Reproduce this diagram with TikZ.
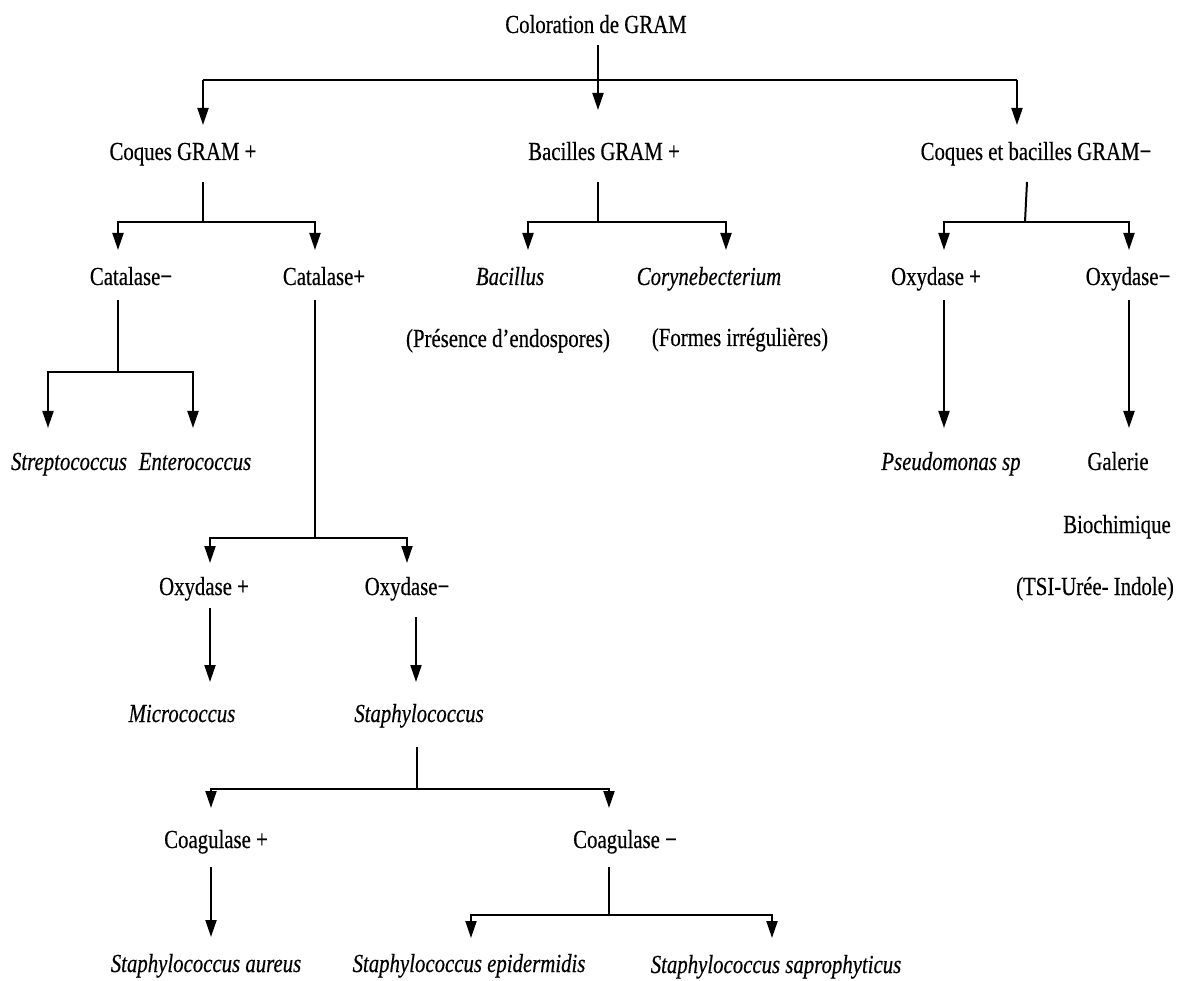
\documentclass[tikz,border=0pt]{standalone}
\usepackage{fontspec}
\setmainfont[FakeStretch=0.8,FakeBold=0.4]{Liberation Serif}
\usetikzlibrary{arrows.meta}
\begin{document}
\begin{tikzpicture}[x=1pt,y=-1pt,
  lbl/.style={anchor=base,inner sep=0pt,font=\fontsize{26}{30}\selectfont},
  ilbl/.style={lbl,font=\fontsize{26}{30}\selectfont\itshape},
  ln/.style={line width=2pt},
  arr/.style={ln,-{Triangle[length=17pt,width=11pt]}}]
\useasboundingbox (0,0) rectangle (1184,981);
% nodes
\node[lbl] (root) at (596,33) {Coloration de GRAM};
\node[lbl] (cgp) at (183,160) {Coques GRAM +};
\node[lbl] (bgp) at (604,160) {Bacilles GRAM +};
\node[lbl] (cbgm) at (1036,160) {Coques et bacilles GRAM−};
\node[lbl] (catm) at (131,285) {Catalase−};
\node[lbl] (catp) at (324,285) {Catalase+};
\node[ilbl] (bac) at (510,285) {Bacillus};
\node[ilbl] (cory) at (709,285) {Corynebecterium};
\node[lbl] (oxpa) at (936,285) {Oxydase +};
\node[lbl] (oxma) at (1128,285) {Oxydase−};
\node[lbl] (pres) at (508,347) {(Présence d’endospores)};
\node[lbl] (form) at (740,346) {(Formes irrégulières)};
\node[ilbl] (strep) at (69,470) {Streptococcus};
\node[ilbl] (entero) at (195,470) {Enterococcus};
\node[ilbl] (pseudo) at (951,470) {Pseudomonas sp};
\node[lbl] (gal) at (1118,470) {Galerie};
\node[lbl] (bio) at (1117,533) {Biochimique};
\node[lbl] (tsi) at (1095,595) {(TSI-Urée- Indole)};
\node[lbl] (oxpb) at (204,595) {Oxydase +};
\node[lbl] (oxmb) at (407,595) {Oxydase−};
\node[ilbl] (micro) at (182,722) {Micrococcus};
\node[ilbl] (staph) at (419,722) {Staphylococcus};
\node[lbl] (coagp) at (216,848) {Coagulase +};
\node[lbl] (coagm) at (625,848) {Coagulase −};
\node[ilbl] (aureus) at (206,972) {Staphylococcus aureus};
\node[ilbl] (epid) at (469,972) {Staphylococcus epidermidis};
\node[ilbl] (sapro) at (776,973) {Staphylococcus saprophyticus};
% coordinates
\coordinate (r0) at (598,45);
\coordinate (rL) at (203,80); \coordinate (rR) at (1017,80);
\coordinate (rLt) at (203,125); \coordinate (rMt) at (598,110); \coordinate (rRt) at (1017,125);
\coordinate (c0) at (203,182); \coordinate (c1) at (203,222);
\coordinate (cL) at (118,222); \coordinate (cR) at (315,222);
\coordinate (cLt) at (118,250); \coordinate (cRt) at (315,250);
\coordinate (b0) at (598,182); \coordinate (b1) at (598,222);
\coordinate (bL) at (528,222); \coordinate (bR) at (726,222);
\coordinate (bLt) at (528,250); \coordinate (bRt) at (726,250);
\coordinate (g0) at (1027,182); \coordinate (g1) at (1025,222);
\coordinate (gL) at (944,222); \coordinate (gR) at (1129,222);
\coordinate (gLt) at (944,250); \coordinate (gRt) at (1129,250);
\coordinate (cm0) at (118,300); \coordinate (cm1) at (118,372);
\coordinate (cmL) at (48,372); \coordinate (cmR) at (193,372);
\coordinate (cmLt) at (48,428); \coordinate (cmRt) at (193,428);
\coordinate (cp0) at (315,300); \coordinate (cp1) at (315,538);
\coordinate (cpL) at (210,538); \coordinate (cpR) at (407,538);
\coordinate (cpLt) at (210,563); \coordinate (cpRt) at (407,563);
\coordinate (oa0) at (944,300); \coordinate (oat) at (944,428);
\coordinate (ob0) at (1129,300); \coordinate (obt) at (1129,428);
\coordinate (oc0) at (210,608); \coordinate (oct) at (210,682);
\coordinate (od0) at (416,617); \coordinate (odt) at (416,682);
\coordinate (s0) at (417,747); \coordinate (s1) at (417,789);
\coordinate (sL) at (211,789); \coordinate (sR) at (609,789);
\coordinate (sLt) at (211,808); \coordinate (sRt) at (609,808);
\coordinate (ka0) at (211,867); \coordinate (kat) at (211,937);
\coordinate (kb0) at (609,867); \coordinate (kb1) at (609,915);
\coordinate (kbL) at (471,915); \coordinate (kbR) at (772,915);
\coordinate (kbLt) at (471,938); \coordinate (kbRt) at (772,938);
% connectors
\draw[arr] (r0) -- (rMt);
\draw[arr] (rL) -- (rLt);
\draw[arr] (rR) -- (rRt);
\draw[ln] (rL) -- (rR);
\draw[ln] (c0) -- (c1);
\draw[arr] (c1) -- (cL) -- (cLt);
\draw[arr] (c1) -- (cR) -- (cRt);
\draw[ln] (b0) -- (b1);
\draw[arr] (b1) -- (bL) -- (bLt);
\draw[arr] (b1) -- (bR) -- (bRt);
\draw[ln] (g0) -- (g1);
\draw[arr] (g1) -- (gL) -- (gLt);
\draw[arr] (g1) -- (gR) -- (gRt);
\draw[ln] (cm0) -- (cm1);
\draw[arr] (cm1) -- (cmL) -- (cmLt);
\draw[arr] (cm1) -- (cmR) -- (cmRt);
\draw[ln] (cp0) -- (cp1);
\draw[arr] (cp1) -- (cpL) -- (cpLt);
\draw[arr] (cp1) -- (cpR) -- (cpRt);
\draw[arr] (oa0) -- (oat);
\draw[arr] (ob0) -- (obt);
\draw[arr] (oc0) -- (oct);
\draw[arr] (od0) -- (odt);
\draw[ln] (s0) -- (s1);
\draw[arr] (s1) -- (sL) -- (sLt);
\draw[arr] (s1) -- (sR) -- (sRt);
\draw[arr] (ka0) -- (kat);
\draw[ln] (kb0) -- (kb1);
\draw[arr] (kb1) -- (kbL) -- (kbLt);
\draw[arr] (kb1) -- (kbR) -- (kbRt);
\end{tikzpicture}
\end{document}
